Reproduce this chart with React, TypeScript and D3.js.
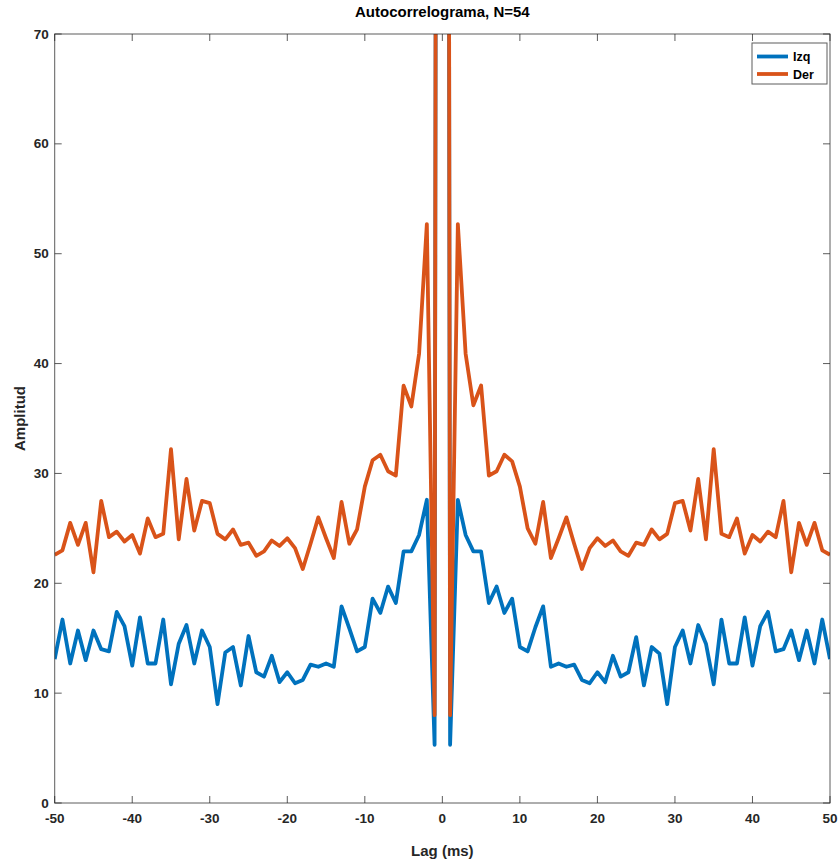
import React from "react";
import * as d3 from "d3";

const lags: number[] = d3.range(-50, 51);

const izq: number[] = [
  13.1, 16.7, 12.7, 15.7, 13.0, 15.7, 14.0, 13.8, 17.4, 16.1,
  12.5, 16.9, 12.7, 12.7, 16.7, 10.8, 14.5, 16.2, 12.7, 15.7,
  14.2, 9.0, 13.7, 14.2, 10.7, 15.2, 11.9, 11.5, 13.4, 11.0,
  11.9, 10.9, 11.2, 12.6, 12.4, 12.7, 12.4, 17.9, 15.9, 13.8,
  14.2, 18.6, 17.3, 19.7, 18.2, 22.9, 22.9, 24.4, 27.6, 5.3,
  500,
  5.3, 27.6, 24.4, 22.9, 22.9, 18.2, 19.7, 17.3, 18.6, 14.2,
  13.8, 16.0, 17.9, 12.4, 12.7, 12.4, 12.6, 11.2, 10.9, 11.9,
  11.0, 13.4, 11.5, 11.9, 15.1, 10.7, 14.2, 13.6, 9.0, 14.2,
  15.7, 12.7, 16.2, 14.5, 10.8, 16.7, 12.7, 12.7, 16.9, 12.5,
  16.1, 17.4, 13.8, 14.0, 15.7, 13.0, 15.7, 12.7, 16.7, 13.1,
];

const der: number[] = [
  22.6, 23.0, 25.5, 23.5, 25.5, 21.0, 27.5, 24.2, 24.7, 23.8,
  24.4, 22.7, 25.9, 24.2, 24.5, 32.2, 24.0, 29.5, 24.8, 27.5,
  27.3, 24.5, 24.0, 24.9, 23.5, 23.7, 22.5, 22.9, 23.9, 23.4,
  24.1, 23.2, 21.3, 23.6, 26.0, 24.1, 22.3, 27.4, 23.6, 24.9,
  28.8, 31.2, 31.7, 30.2, 29.8, 38.0, 36.1, 40.9, 52.7, 8.0,
  500,
  8.0, 52.7, 40.9, 36.2, 38.0, 29.8, 30.2, 31.7, 31.1, 28.8,
  25.0, 23.6, 27.4, 22.3, 24.1, 26.0, 23.6, 21.3, 23.2, 24.1,
  23.4, 23.9, 22.9, 22.5, 23.7, 23.5, 24.9, 24.0, 24.5, 27.3,
  27.5, 24.8, 29.5, 24.0, 32.2, 24.5, 24.2, 25.9, 22.7, 24.4,
  23.8, 24.7, 24.2, 27.5, 21.0, 25.5, 23.5, 25.5, 23.0, 22.6,
];

const xTicks: number[] = [-50, -40, -30, -20, -10, 0, 10, 20, 30, 40, 50];
const yTicks: number[] = [0, 10, 20, 30, 40, 50, 60, 70];
const seriesNames: string[] = ["Izq", "Der"];
const seriesColors: string[] = ["#0072BD", "#D95319"];

const W = 840;
const H = 859;
const L = 54.7;
const R = 830;
const T = 34;
const B = 803;
const FONT = "'Liberation Sans', Arial, Helvetica, sans-serif";
const AX = "#262626";

export default function App() {
  const x = d3.scaleLinear().domain([-50, 50]).range([L, R]);
  const y = d3.scaleLinear().domain([0, 70]).range([B, T]);
  const line = d3
    .line<number>()
    .x((_, i) => x(lags[i]))
    .y((d) => y(d));
  const fmt = (v: number) => (v < 0 ? "-" + Math.abs(v) : String(v));
  const tl = 7;
  const series = [izq, der];

  return (
    <svg
      width={W}
      height={H}
      style={{ position: "absolute", left: 0, top: 0, background: "#fff" }}
      fontFamily={FONT}
    >
      <defs>
        <clipPath id="plotclip">
          <rect x={L} y={T} width={R - L} height={B - T} />
        </clipPath>
      </defs>
      <rect x={0} y={0} width={W} height={H} fill="#fff" />

      <g clipPath="url(#plotclip)">
        {series.map((s, i) => (
          <path
            key={i}
            d={line(s) || ""}
            fill="none"
            stroke={seriesColors[i]}
            strokeWidth={3.8}
            strokeLinejoin="round"
          />
        ))}
      </g>

      <rect
        x={L}
        y={T}
        width={R - L}
        height={B - T}
        fill="none"
        stroke={AX}
        strokeOpacity={0.75}
        strokeWidth={1}
      />

      {xTicks.map((t) => (
        <g key={"x" + t}>
          <line x1={x(t)} x2={x(t)} y1={B} y2={B - tl} stroke={AX} strokeOpacity={0.75} />
          <line x1={x(t)} x2={x(t)} y1={T} y2={T + tl} stroke={AX} strokeOpacity={0.75} />
          <text
            x={x(t)}
            y={B + 20}
            textAnchor="middle"
            fontSize={13.5}
            fontWeight="bold"
            fill={AX}
          >
            {fmt(t)}
          </text>
        </g>
      ))}

      {yTicks.map((t) => (
        <g key={"y" + t}>
          <line x1={L} x2={L + tl} y1={y(t)} y2={y(t)} stroke={AX} strokeOpacity={0.75} />
          <line x1={R} x2={R - tl} y1={y(t)} y2={y(t)} stroke={AX} strokeOpacity={0.75} />
          <text
            x={L - 6}
            y={y(t) + 4.5}
            textAnchor="end"
            fontSize={13.5}
            fontWeight="bold"
            fill={AX}
          >
            {fmt(t)}
          </text>
        </g>
      ))}

      <text
        x={(L + R) / 2}
        y={17}
        textAnchor="middle"
        fontSize={15}
        fontWeight="bold"
        fill="#000"
      >
        Autocorrelograma, N=54
      </text>

      <text
        x={(L + R) / 2}
        y={856}
        textAnchor="middle"
        fontSize={15}
        fontWeight="bold"
        fill={AX}
      >
        Lag (ms)
      </text>
      <text
        transform={`translate(25, ${(T + B) / 2}) rotate(-90)`}
        textAnchor="middle"
        fontSize={15}
        fontWeight="bold"
        fill={AX}
      >
        Amplitud
      </text>

      <g>
        <rect x={752} y={43} width={75} height={41} fill="#fff" stroke={AX} strokeOpacity={0.75} />
        {seriesNames.map((n, i) => (
          <g key={n}>
            <line
              x1={757}
              x2={788}
              y1={56.5 + i * 17.5}
              y2={56.5 + i * 17.5}
              stroke={seriesColors[i]}
              strokeWidth={3.8}
            />
            <text
              x={793}
              y={56.5 + i * 17.5 + 4.5}
              fontSize={12.5}
              fontWeight="bold"
              fill="#000"
            >
              {n}
            </text>
          </g>
        ))}
      </g>
    </svg>
  );
}
